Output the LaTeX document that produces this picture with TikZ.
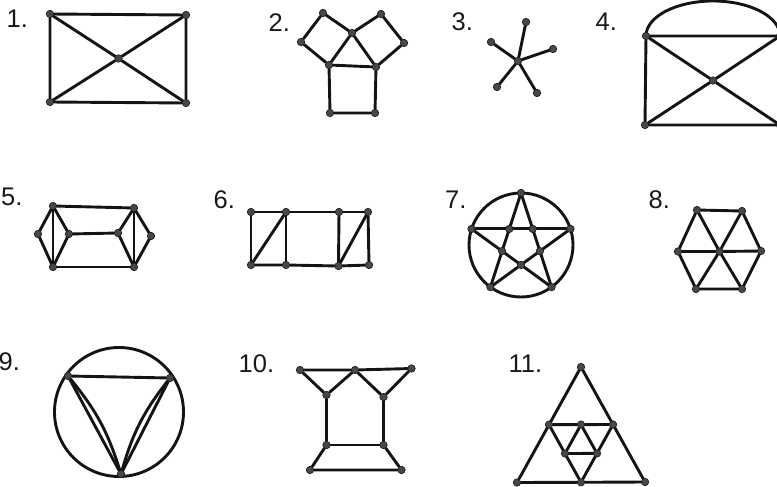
\documentclass[tikz,border=0pt]{standalone}
\usepackage{fontspec}
\setmainfont{Liberation Sans}
\usetikzlibrary{backgrounds}
\begin{document}
\begin{tikzpicture}[x=1pt,y=-1pt,
  v/.style={circle,fill=black!72,draw=black!90,line width=0.6pt,inner sep=0pt,minimum size=7.5pt},
  ed/.style={line width=2.9pt,draw=black!92,line cap=round},
  lab/.style={anchor=base west,inner sep=0pt,font=\fontsize{25.5}{25.5}\selectfont,text=black!90}]
\useasboundingbox (0,0) rectangle (777,487);
\clip (0,0) rectangle (777,487);

% labels
\node[lab] (l1) at (6.5,27.5) {1.};
\node[lab] (l2) at (268.5,32) {2.};
\node[lab] (l3) at (451.5,30.5) {3.};
\node[lab] (l4) at (595.5,31) {4.};
\node[lab] (l5) at (1,205.5) {5.};
\node[lab] (l6) at (213.5,208.5) {6.};
\node[lab] (l7) at (445,208) {7.};
\node[lab] (l8) at (648.5,208.5) {8.};
\node[lab] (l9) at (-1.5,370.5) {9.};
\node[lab] (l10) at (238.5,372) {10.};
\node[lab] (l11) at (508.5,372) {11.};

% figure 1
\node[v] (a1) at (50,14) {}; \node[v] (b1) at (186,15) {};
\node[v] (c1) at (186,103) {}; \node[v] (d1) at (50,102) {};
\node[v] (e1) at (118.5,58.5) {};
% figure 2
\node[v] (tl2) at (323,13) {}; \node[v] (le2) at (301,42) {};
\node[v] (ap2) at (352,33) {}; \node[v] (tr2) at (381,14) {};
\node[v] (ri2) at (404,43) {}; \node[v] (bl2) at (329,65) {};
\node[v] (br2) at (376,67) {}; \node[v] (ll2) at (330,113) {};
\node[v] (lr2) at (375,113) {};
% figure 3
\node[v] (c3) at (518,61) {};
\node[v] (p13) at (526,22) {}; \node[v] (p23) at (491,42) {};
\node[v] (p33) at (553,49) {}; \node[v] (p43) at (497,87) {};
\node[v] (p53) at (537,93) {};
% figure 4
\node[v] (a4) at (646,36) {}; \node[v] (b4) at (780,36) {};
\node[v] (c4) at (780,125) {}; \node[v] (d4) at (645,125) {};
\node[v] (e4) at (713,80.5) {};
% figure 5
\node[v] (a5) at (53,206) {}; \node[v] (b5) at (134,208) {};
\node[v] (l5) at (38,234) {}; \node[v] (il5) at (69,234) {};
\node[v] (ir5) at (118,233) {}; \node[v] (r5) at (151,236) {};
\node[v] (c5) at (53,267) {}; \node[v] (d5) at (134,267) {};
% figure 6
\node[v] (t16) at (251,212) {}; \node[v] (t26) at (286,212) {};
\node[v] (t36) at (339,212) {}; \node[v] (t46) at (368,212) {};
\node[v] (u16) at (251,265) {}; \node[v] (u26) at (286,265) {};
\node[v] (u36) at (338.5,266) {}; \node[v] (u46) at (369,265) {};
% figure 7
\coordinate (m7) at (521,245);
\node[v] (o17) at (521,193) {}; \node[v] (o27) at (471.5,228.9) {};
\node[v] (o37) at (490.4,287.1) {}; \node[v] (o47) at (551.6,287.1) {};
\node[v] (o57) at (570.5,228.9) {};
\node[v] (i17) at (509.3,228.9) {}; \node[v] (i27) at (532.7,228.9) {};
\node[v] (i37) at (502.1,251.1) {}; \node[v] (i47) at (539.9,251.1) {};
\node[v] (i57) at (521,264.9) {};
% figure 8
\node[v] (tl8) at (697,210) {}; \node[v] (tr8) at (742,211) {};
\node[v] (l8) at (678,251.5) {}; \node[v] (c8) at (719.5,251.5) {};
\node[v] (r8) at (761,251) {}; \node[v] (bl8) at (696,289) {};
\node[v] (br8) at (742,289) {};
% figure 9
\coordinate (m9) at (119,412);
\node[v] (a9) at (68,376) {}; \node[v] (b9) at (170,378) {};
\node[v] (c9) at (121,474) {};
% figure 10
\node[v] (tl10) at (300,370) {}; \node[v] (tm10) at (355,370) {};
\node[v] (tr10) at (411.5,368.5) {}; \node[v] (ml10) at (326.5,395) {};
\node[v] (mr10) at (383.5,397) {}; \node[v] (ll10) at (326.5,445) {};
\node[v] (lr10) at (383.5,445) {}; \node[v] (bl10) at (310,470) {};
\node[v] (br10) at (401.5,470) {};
% figure 11
\node[v] (t11) at (581,367) {}; \node[v] (bl11) at (517,482.5) {};
\node[v] (br11) at (645,482) {}; \node[v] (lm11) at (549,424.7) {};
\node[v] (rm11) at (613,424.5) {}; \node[v] (bm11) at (581,482.3) {};
\node[v] (it11) at (581,424.6) {}; \node[v] (il11) at (565,453.5) {};
\node[v] (ir11) at (597,453.4) {};

\begin{pgfonlayer}{background}
% 1
\draw[ed] (a1)--(b1)--(c1)--(d1)--(a1);
\draw[ed] (a1)--(e1)--(c1); \draw[ed] (b1)--(e1)--(d1);
% 2
\draw[ed] (bl2)--(le2)--(tl2)--(ap2)--(tr2)--(ri2)--(br2);
\draw[ed] (bl2)--(ap2)--(br2); \draw[ed] (bl2)--(br2);
\draw[ed] (bl2)--(ll2)--(lr2)--(br2);
% 3
\foreach \p in {p13,p23,p33,p43,p53} \draw[ed] (c3)--(\p);
% 4
\draw[ed] (a4)--(b4)--(c4)--(d4)--(a4);
\draw[ed] (a4)--(e4)--(c4); \draw[ed] (b4)--(e4)--(d4);
\draw[ed] (a4.center) arc[start angle=180,end angle=360,x radius=67,y radius=35];
% 5
\draw[ed] (a5)--(b5); \draw[ed] (a5)--(l5)--(c5); \draw[ed] (a5)--(il5)--(c5);
\draw[ed] (a5)--(c5); \draw[ed] (il5)--(ir5); \draw[ed] (c5)--(d5);
\draw[ed] (b5)--(ir5)--(d5); \draw[ed] (b5)--(r5)--(d5); \draw[ed] (b5)--(d5);
% 6
\draw[ed] (t16)--(t26)--(t36)--(t46); \draw[ed] (u16)--(u26)--(u36)--(u46);
\draw[ed] (t16)--(u16); \draw[ed] (t26)--(u26); \draw[ed] (t36)--(u36); \draw[ed] (t46)--(u46);
\draw[ed] (u16)--(t26); \draw[ed] (u36)--(t46);
% 7
\draw[ed] (m7) circle[radius=52];
\draw[ed] (o17)--(o37); \draw[ed] (o17)--(o47); \draw[ed] (o27)--(o57);
\draw[ed] (o27)--(o47); \draw[ed] (o57)--(o37);
% 8
\draw[ed] (tl8)--(tr8)--(r8)--(br8)--(bl8)--(l8)--(tl8);
\draw[ed] (l8)--(c8)--(r8); \draw[ed] (tl8)--(c8)--(br8); \draw[ed] (tr8)--(c8)--(bl8);
% 9
\draw[ed] (m9) circle[radius=64.5];
\draw[ed] (a9)--(b9); \draw[ed] (a9)--(c9); \draw[ed] (b9)--(c9);
\draw[ed] (a9) to[bend left=11] (c9); \draw[ed] (b9) to[bend right=11] (c9);
% 10
\draw[ed] (tl10)--(tm10)--(tr10);
\draw[ed] (tl10)--(ml10)--(tm10)--(mr10)--(tr10);
\draw[ed] (ml10)--(ll10)--(lr10)--(mr10);
\draw[ed] (ll10)--(bl10)--(br10)--(lr10);
% 11
\draw[ed] (t11)--(bl11)--(bm11)--(br11)--(t11);
\draw[ed] (lm11)--(it11)--(rm11)--(bm11)--(lm11);
\draw[ed] (it11)--(il11)--(ir11)--(it11);
\end{pgfonlayer}
\end{tikzpicture}
\end{document}
